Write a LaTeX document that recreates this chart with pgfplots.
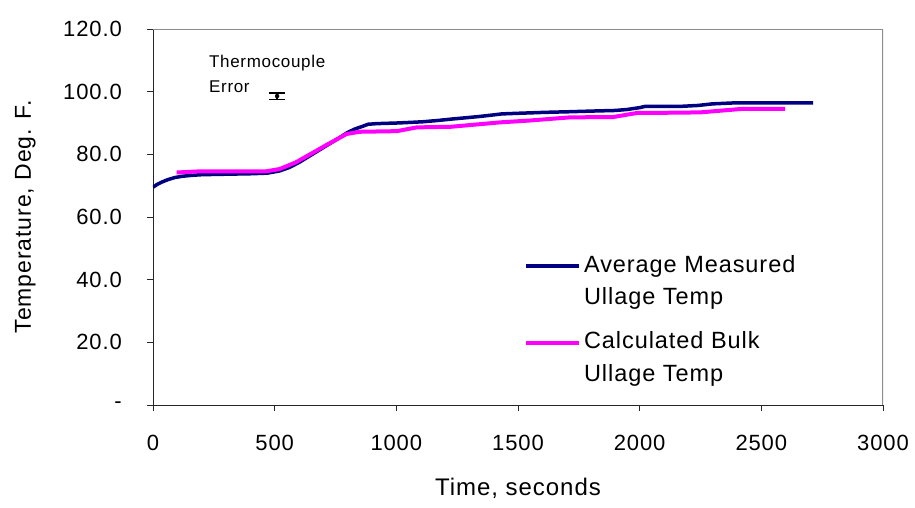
\documentclass[border=0pt]{standalone}
\usepackage{fontspec}
\setmainfont{Liberation Sans}[LetterSpace=4]
\usepackage{pgfplots}
\pgfplotsset{compat=1.18}
\definecolor{navyc}{HTML}{000080}
\definecolor{magc}{HTML}{FF00FF}
\definecolor{framegray}{HTML}{8C8C8C}
\begin{document}
\begin{tikzpicture}
\begin{axis}[
  name=main,
  scale only axis, width=730pt, height=376pt,
  xmin=0, xmax=3000, ymin=0, ymax=120,
  axis x line*=bottom, axis y line*=left,
  axis line style={black!85, line width=0.9pt, -},
  xtick={0,500,...,3000}, ytick={0,20,...,120},
  xticklabels={0,500,1000,1500,2000,2500,3000},
  yticklabels={-\hspace{25pt},20.0,40.0,60.0,80.0,100.0,120.0},
  tick align=outside, major tick length=6pt,
  tick style={black!85, line width=0.9pt},
  /pgf/number format/assume math mode=true,
  ticklabel style={font=\fontsize{22}{26}\selectfont},
  xticklabel style={inner sep=0pt, anchor=north, yshift=-24pt},
  yticklabel style={inner sep=0pt, anchor=east, xshift=-25pt},
  xlabel={Time, seconds},
  ylabel={Temperature, Deg. F.},
  every axis x label/.style={at={(rel axis cs:0.5,0)}, anchor=base, yshift=-90pt, font=\fontsize{24}{28}\selectfont},
  every axis y label/.style={at={(rel axis cs:0,0.5)}, rotate=90, anchor=base, yshift=122pt, font=\fontsize{23}{28}\selectfont},
  legend cell align=left,
  legend style={draw=none, fill=none, at={(axis cs:1525,50.1)}, anchor=north west,
    inner sep=0pt, outer sep=0pt, row sep=0pt, column sep=3pt,
    nodes={inner sep=0pt, text depth=0pt, font=\fontsize{23.5}{31}\selectfont},
    cells={anchor=base west}},
  legend image code/.code={\path (0pt,0pt); \draw[#1] (0pt,6pt) -- (53pt,6pt);},
]
\draw[framegray, line width=1.2pt] (rel axis cs:0,1) -- (rel axis cs:1,1) -- (rel axis cs:1,0);

\addplot[navyc, line width=3.5pt, line join=round] coordinates {
(0,69.5) (15,70.3) (35,71.1) (60,71.9) (90,72.6) (120,73.0) (160,73.3) (200,73.5)
(260,73.6) (330,73.7) (400,73.8) (470,74.0) (520,74.7) (560,75.8) (600,77.4)
(640,79.3) (680,81.2) (720,83.1) (760,85.0) (800,87.0) (830,88.1) (860,88.9)
(884,89.6) (920,89.8) (1002,90.0) (1060,90.2) (1110,90.4) (1170,90.8) (1233,91.3)
(1290,91.7) (1344,92.1) (1390,92.5) (1433,92.9) (1500,93.1) (1611,93.4) (1714,93.6)
(1800,93.8) (1900,94.0) (1947,94.3) (2000,94.9) (2022,95.3) (2166,95.3) (2240,95.6)
(2298,96.1) (2384,96.4) (2713,96.4)
};
\addlegendentry{\rule{0pt}{24pt}Average Measured}
\addlegendimage{empty legend}
\addlegendentry{\rule{0pt}{31pt}Ullage Temp}

\addplot[magc, line width=4pt, line join=round] coordinates {
(97,74.2) (200,74.6) (466,74.6) (520,75.3) (586,77.4) (650,80.2) (720,83.3)
(796,86.5) (850,87.2) (1002,87.4) (1084,88.6) (1225,88.8) (1426,90.2) (1550,90.8)
(1714,91.8) (1891,91.9) (1989,93.2) (2166,93.3) (2250,93.4) (2420,94.5) (2598,94.5)
};
\addlegendentry{\rule{0pt}{44pt}Calculated Bulk}
\addlegendimage{empty legend}
\addlegendentry{\rule{0pt}{31pt}Ullage Temp}

\addplot[black, only marks, mark=none, forget plot,
  error bars/.cd, y dir=both, y explicit,
  error bar style={line width=1.2pt, black},
  error mark options={rotate=90, mark size=8pt, line width=1.2pt, black}]
  coordinates {(510,98.6) +- (0,1)};

\node[anchor=base west, inner sep=0pt, font=\fontsize{17}{25}\selectfont]
  at (axis cs:230,107.6) {\begin{tabular}[t]{@{}l@{}}Thermocouple\\Error\end{tabular}};
\end{axis}
\pgfresetboundingbox
\path[use as bounding box] ([shift={(-153pt,-102pt)}]main.south west) rectangle ([shift={(32pt,29pt)}]main.north east);
\end{tikzpicture}
\end{document}
